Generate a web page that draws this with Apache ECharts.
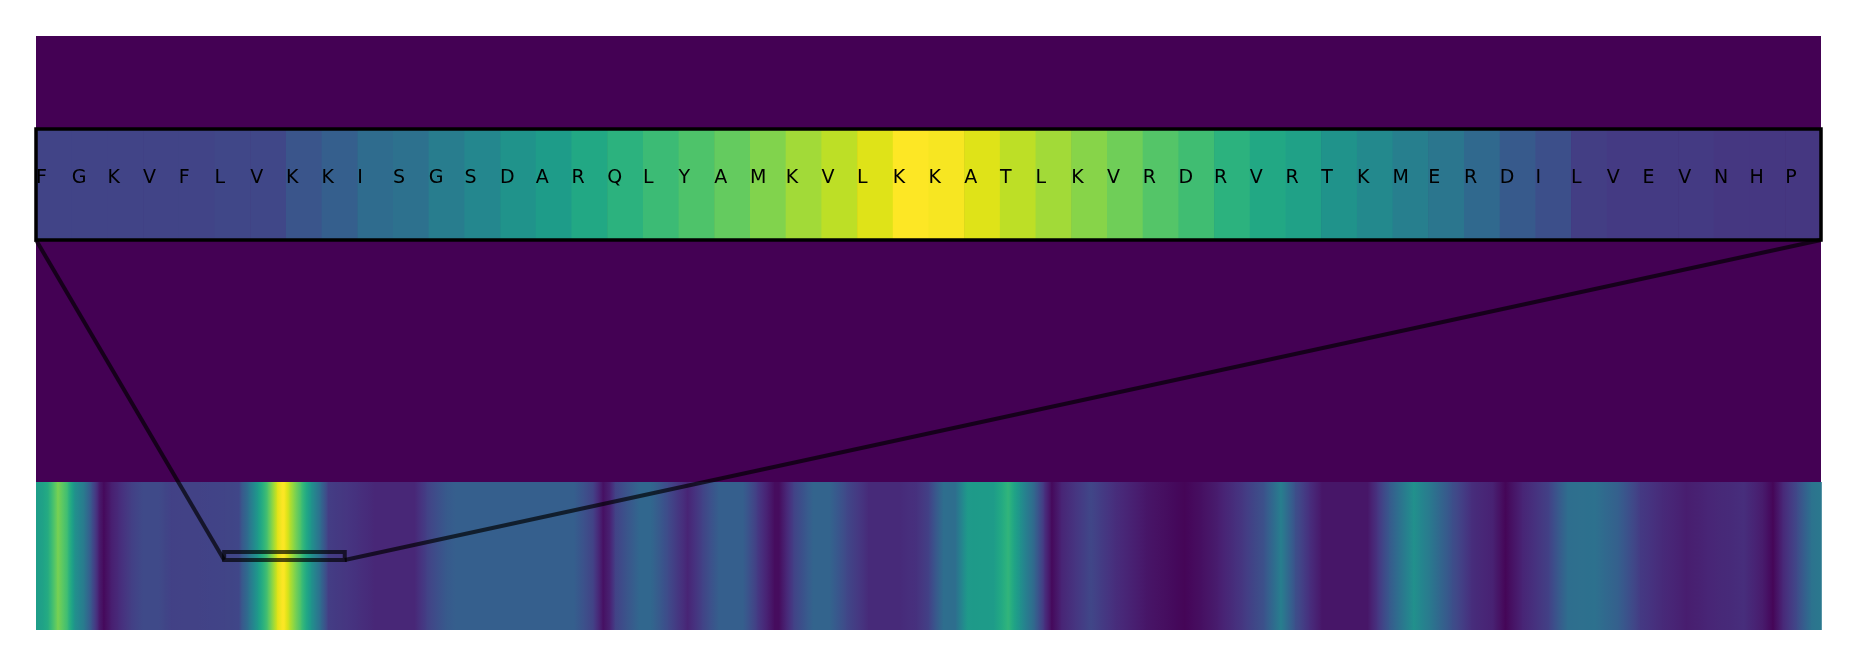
<!DOCTYPE html>
<html>
<head>
<meta charset="utf-8">
<script src="https://cdn.jsdelivr.net/npm/echarts@6/dist/echarts.min.js"></script>
<style>
  html, body { margin: 0; padding: 0; background: #fff; }
  #chart { width: 1857px; height: 667px; }
</style>
</head>
<body>
<div id="chart"></div>
<script>
// residues of the zoomed window (top strip)
var residues = ['F','G','K','V','F','L','V','K','K','I','S','G','S','D','A','R','Q','L','Y','A',
                'M','K','V','L','K','K','A','T','L','K','V','R','D','R','V','R','T','K','M','E',
                'R','D','I','L','V','E','V','N','H','P'];
var windowScores = [0.20,0.20,0.20,0.20,0.20,0.21,0.21,0.26,0.30,0.35,
                    0.37,0.42,0.46,0.51,0.55,0.60,0.64,0.68,0.72,0.76,
                    0.81,0.86,0.90,0.95,1.00,0.99,0.95,0.90,0.86,0.82,
                    0.78,0.73,0.69,0.64,0.60,0.57,0.51,0.47,0.43,0.39,
                    0.34,0.28,0.24,0.18,0.17,0.17,0.17,0.16,0.16,0.16];

// whole-sequence profile (bottom strip), read at residue positions
var profilePos = [0,3,5,9,13,16,20,23,26,28,31,34,39,44,51,56,78,84,85,88,92,96,100,102,103,105,110,114,118,121,127,
                  133,140,157,162,170,174,223,231,235,238,240,250,255,262,270,276,283,293,299,306,308,314,322,329,
                  336,345,358,365,370,376,381,386,397,403,408,414,418,421,425,437,447,460,476,483,490,500,509,516,
                  522,528,533,552,556,561,571,578,587,595,604,609,616,627,635,646,656,665,674,684,696,708,716,720,
                  724,730,736,740];
var profileScores = [0.55,0.58,0.62,0.80,0.68,0.50,0.40,0.25,0.08,0.02,0.08,0.12,0.18,0.22,0.22,0.19,0.20,0.21,0.26,0.37,0.55,0.72,0.95,1.00,0.99,0.90,0.69,0.51,0.34,0.18,0.16,
                     0.14,0.11,0.11,0.19,0.28,0.30,0.30,0.19,0.04,0.10,0.19,0.33,0.33,0.22,0.10,0.19,0.30,0.30,0.17,0.03,0.03,0.19,0.32,0.32,
                     0.21,0.12,0.12,0.14,0.19,0.36,0.36,0.54,0.55,0.66,0.50,0.32,0.14,0.02,0.10,0.21,0.13,0.06,0.01,0.04,0.08,0.16,0.25,0.43,
                     0.24,0.13,0.06,0.06,0.15,0.28,0.50,0.40,0.24,0.13,0.09,0.01,0.10,0.19,0.36,0.37,0.30,0.17,0.12,0.08,0.11,0.13,0.07,0.01,
                     0.11,0.22,0.38,0.40];

var seqLength = 740;
var windowStart = 78;
var windowSize = residues.length;

var viridis = ['#440154','#471365','#482475','#463480','#414487','#3b528b','#355f8d','#2f6c8e','#2a788e','#25848e',
               '#21918c','#1e9c89','#22a884','#2fb47c','#44bf70','#5ec962','#7ad151','#9bd93c','#bddf26','#dfe318','#fde725'];

function cmap(v) {
  return echarts.color.lerp(Math.max(0, Math.min(1, v)), viridis);
}

var chart = echarts.init(document.getElementById('chart'));

var windowData = windowScores.map(function (v, i) { return [i, v]; });
var profileData = profilePos.map(function (p, i) { return [p, profileScores[i]]; });

var hiddenX = function (idx, max) { return { type: 'value', gridIndex: idx, min: 0, max: max, show: false }; };
var hiddenY = function (idx) { return { type: 'value', gridIndex: idx, min: 0, max: 1, show: false }; };

chart.setOption({
  animation: false,
  grid: [
    { left: 36, right: 36, top: 36, bottom: 37, show: true, backgroundColor: '#440154', borderWidth: 0 },
    { left: 36, right: 36, top: 129, height: 111 },
    { left: 36, right: 36, top: 482, bottom: 37 }
  ],
  xAxis: [hiddenX(0, 1), hiddenX(1, windowSize), hiddenX(2, seqLength)],
  yAxis: [hiddenY(0), hiddenY(1), hiddenY(2)],
  visualMap: {
    show: false,
    type: 'continuous',
    min: 0,
    max: 1,
    dimension: 1,
    seriesIndex: 0,
    inRange: { color: viridis }
  },
  series: [
    {
      // zoomed window
      type: 'custom',
      xAxisIndex: 1,
      yAxisIndex: 1,
      data: windowData,
      renderItem: function (params, api) {
        var i = api.value(0);
        var p0 = api.coord([i, 1]);
        var p1 = api.coord([i + 1, 0]);
        return {
          type: 'group',
          children: [
            {
              type: 'rect',
              shape: { x: p0[0], y: p0[1], width: p1[0] - p0[0] + 0.6, height: p1[1] - p0[1] },
              style: { fill: api.visual('color') }
            },
            {
              type: 'text',
              style: {
                text: residues[params.dataIndex],
                x: p0[0],
                y: (p0[1] + p1[1]) / 2 - 6,
                fill: '#000',
                fontSize: 19,
                fontFamily: 'DejaVu Sans',
                align: 'left',
                verticalAlign: 'middle'
              }
            }
          ]
        };
      }
    },
    {
      // full profile, smooth
      type: 'custom',
      xAxisIndex: 2,
      yAxisIndex: 2,
      data: profileData,
      renderItem: function (params, api) {
        var k = params.dataIndex;
        if (k >= profilePos.length - 1) return null;
        var p0 = api.coord([api.value(0), 1]);
        var p1 = api.coord([profilePos[k + 1], 0]);
        var v0 = api.value(1), v1 = profileScores[k + 1];
        var stops = [];
        for (var s = 0; s <= 4; s++) {
          var t = s / 4;
          stops.push({ offset: t, color: cmap(v0 + (v1 - v0) * t) });
        }
        return {
          type: 'rect',
          shape: { x: p0[0], y: p0[1], width: p1[0] - p0[0] + 0.8, height: p1[1] - p0[1] },
          style: { fill: new echarts.graphic.LinearGradient(0, 0, 1, 0, stops) }
        };
      }
    },
    {
      // window box, zoom lines and frame
      type: 'custom',
      xAxisIndex: 2,
      yAxisIndex: 2,
      data: [[windowStart, windowStart + windowSize]],
      renderItem: function (params, api) {
        var a = api.coord([api.value(0), 0.5]);
        var b = api.coord([api.value(1), 0.5]);
        var half = 4;
        var bl = chart.convertToPixel({ xAxisIndex: 1, yAxisIndex: 1 }, [0, 0]);
        var br = chart.convertToPixel({ xAxisIndex: 1, yAxisIndex: 1 }, [windowSize, 0]);
        var tl = chart.convertToPixel({ xAxisIndex: 1, yAxisIndex: 1 }, [0, 1]);
        var ink = 'rgba(0,0,0,0.68)';
        return {
          type: 'group',
          children: [
            { type: 'rect', shape: { x: a[0], y: a[1] - half, width: b[0] - a[0], height: 2 * half },
              style: { fill: 'none', stroke: ink, lineWidth: 4 } },
            { type: 'line', shape: { x1: bl[0], y1: bl[1], x2: a[0], y2: a[1] + half },
              style: { stroke: ink, lineWidth: 4 } },
            { type: 'line', shape: { x1: br[0], y1: br[1], x2: b[0], y2: b[1] + half },
              style: { stroke: ink, lineWidth: 4 } },
            { type: 'rect', shape: { x: tl[0], y: tl[1], width: br[0] - tl[0], height: bl[1] - tl[1] },
              style: { fill: 'none', stroke: '#000', lineWidth: 3.5 } }
          ]
        };
      }
    }
  ]
});
</script>
</body>
</html>
